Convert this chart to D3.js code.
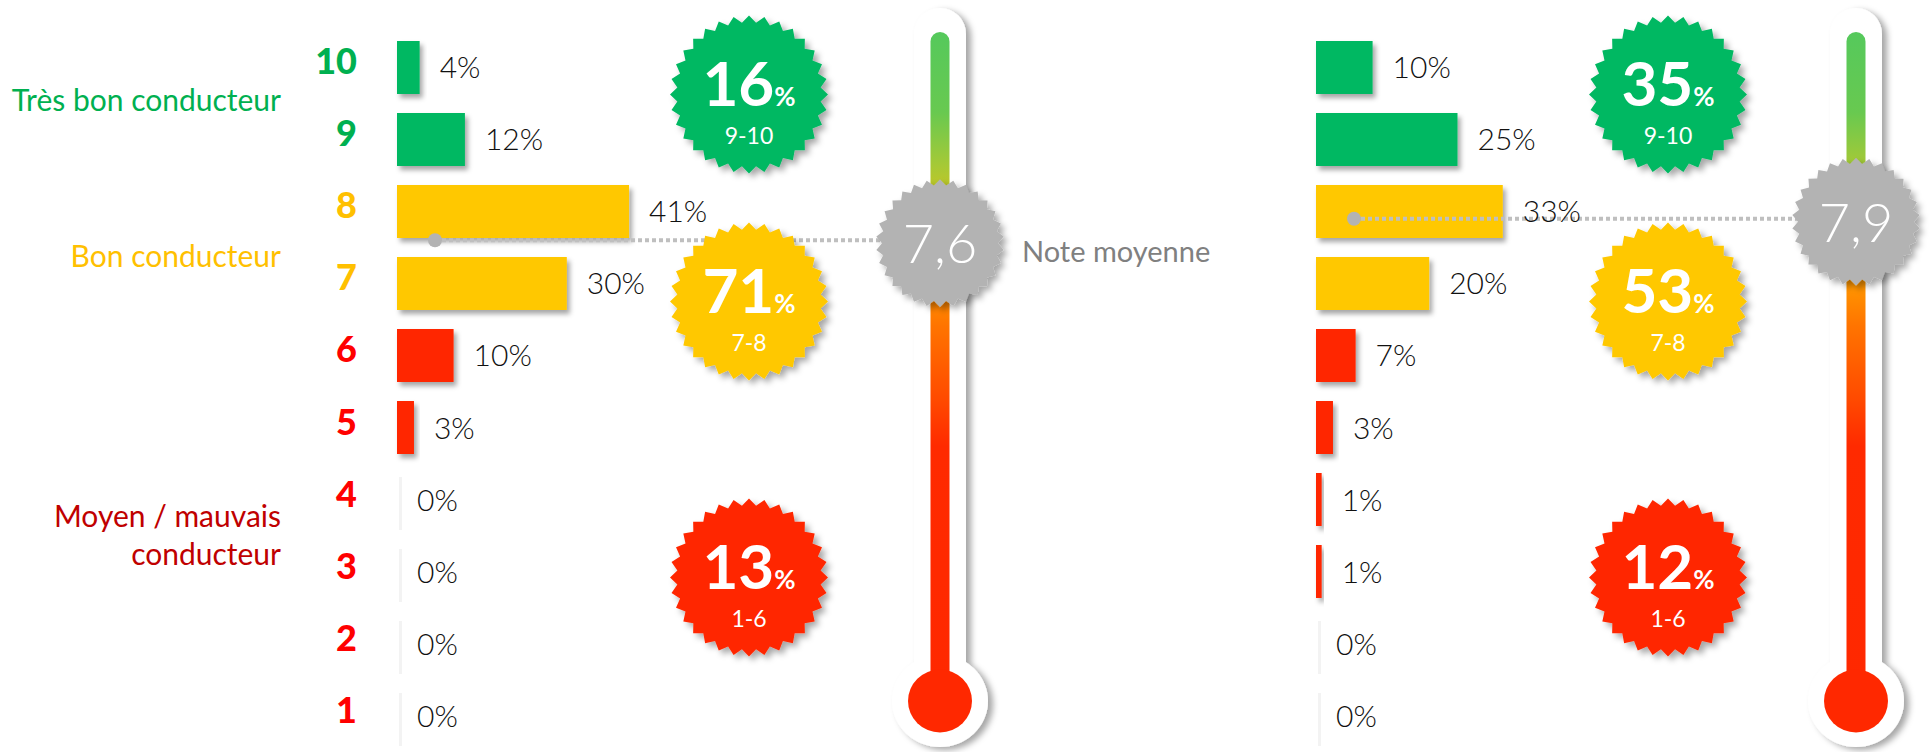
<!DOCTYPE html>
<html>
<head>
<meta charset="utf-8">
<script src="https://cdn.jsdelivr.net/npm/d3@7"></script>
<style>
  body { margin: 0; background: #fff; }
  svg { display: block; }
</style>
</head>
<body>
<div id="container"></div>
<script>
/* CONSTANTS AND GLOBALS */
const width = 1930,
  height = 752

// DATA
const ratings = [10, 9, 8, 7, 6, 5, 4, 3, 2, 1]
const leftPct = [4, 12, 41, 30, 10, 3, 0, 0, 0, 0]
const rightPct = [10, 25, 33, 20, 7, 3, 1, 1, 0, 0]
const groupRanges = ['9-10', '7-8', '1-6']
const leftGroupPct = [16, 71, 13]
const rightGroupPct = [35, 53, 12]
const leftMean = 7.6
const rightMean = 7.9
const meanLabel = 'Note moyenne'
const categoryLabels = [['Très bon conducteur'], ['Bon conducteur'], ['Moyen / mauvais', 'conducteur']]

const green = '#00b862', yellow = '#ffc800', red = '#ff2800', grey = '#b3b3b3'
const groupColor = r => r >= 9 ? green : r >= 7 ? yellow : red
const numColor = r => r >= 9 ? '#00b050' : r >= 7 ? '#ffc000' : '#ff0000'

// panels (layout only)
const panels = [
  { x0: 397, badgeX: 749, thermoX: 940, values: leftPct, groups: leftGroupPct, mean: leftMean, showLabels: true },
  { x0: 1316, badgeX: 1668, thermoX: 1856, values: rightPct, groups: rightGroupPct, mean: rightMean, showLabels: false }
]
const badgeY = [94.5, 301.5, 577.5]

// + SCALES
const yScale = d3.scaleBand()
  .domain(ratings)
  .range([41, 742])
  .paddingInner(0.264)

const xScale = d3.scaleLinear()
  .domain([0, 100])
  .range([0, 566])

const meanScale = d3.scaleLinear()
  .domain([10, 1])
  .range([yScale(10) + yScale.bandwidth() / 2, yScale(1) + yScale.bandwidth() / 2])

// CREATE SVG ELEMENT
const svg = d3.select('#container')
  .append('svg')
  .attr('width', width)
  .attr('height', height)

const defs = svg.append('defs')
const shadow = (id, dx, dy, sd, op) => defs.append('filter')
  .attr('id', id).attr('x', '-30%').attr('y', '-30%').attr('width', '160%').attr('height', '160%')
  .append('feDropShadow')
  .attr('dx', dx).attr('dy', dy).attr('stdDeviation', sd)
  .attr('flood-color', '#000').attr('flood-opacity', op)
shadow('barShadow', 3, 4, 2.5, 0.35)
shadow('badgeShadow', 4, 4, 3, 0.35)
shadow('thermoShadow', 5, 3, 3, 0.35)

const grad = defs.append('linearGradient')
  .attr('id', 'thermoGrad')
  .attr('gradientUnits', 'userSpaceOnUse')
  .attr('x1', 0).attr('x2', 0).attr('y1', 32).attr('y2', 700)
const stops = [[0, '#55c95c'], [0.12, '#68c950'], [0.2, '#a6c936'], [0.25, '#cbc520'],
  [0.37, '#ff9a00'], [0.44, '#ff7400'], [0.55, '#ff4a00'], [0.62, '#ff2a00'], [1, '#ff2800']]
grad.selectAll('stop').data(stops).join('stop')
  .attr('offset', d => d[0]).attr('stop-color', d => d[1])

// star shape for badges
function starPath(rOut, rIn, n) {
  const pts = d3.range(n * 2).map(i => {
    const a = i * Math.PI / n - Math.PI / 2
    const r = i % 2 ? rIn : rOut
    return [Math.cos(a) * r, Math.sin(a) * r]
  })
  return d3.line()(pts) + 'Z'
}

// category labels on the left
const catY = [[111], [267], [527, 565]]
const catColor = ['#00b050', '#ffc000', '#c00000']
categoryLabels.forEach((lines, i) => {
  lines.forEach((t, j) => {
    svg.append('text')
      .attr('x', 281)
      .attr('y', catY[i][j])
      .attr('text-anchor', 'end')
      .attr('font-family', 'Lato, sans-serif')
      .attr('font-size', 30)
      .attr('fill', catColor[i])
      .text(t)
  })
})

// rating numbers
svg.selectAll('.rating')
  .data(ratings)
  .join('text')
  .attr('class', 'rating')
  .attr('x', 357)
  .attr('y', d => yScale(d) + yScale.bandwidth() / 2 + 7)
  .attr('text-anchor', 'end')
  .attr('font-family', 'Lato, sans-serif')
  .attr('font-weight', 900)
  .attr('font-size', 36)
  .attr('fill', d => numColor(d))
  .text(d => d)

panels.forEach(p => {
  const g = svg.append('g')
  const rows = ratings.map((r, i) => ({ rating: r, value: p.values[i] }))

  // DRAW BARS
  g.selectAll('.bar')
    .data(rows)
    .join('rect')
    .attr('class', 'bar')
    .attr('x', p.x0)
    .attr('y', d => yScale(d.rating))
    .attr('width', d => xScale(d.value))
    .attr('height', yScale.bandwidth())
    .attr('fill', d => groupColor(d.rating))
    .attr('filter', 'url(#barShadow)')

  // faint edge for empty bars
  g.selectAll('.zero')
    .data(rows.filter(d => d.value === 0))
    .join('rect')
    .attr('x', p.x0 + 2)
    .attr('y', d => yScale(d.rating) + 4)
    .attr('width', 3)
    .attr('height', yScale.bandwidth())
    .attr('fill', '#f3f3f3')

  // mean dotted line
  const my = meanScale(p.mean)
  g.append('line')
    .attr('x1', p.x0 + 38).attr('x2', p.thermoX)
    .attr('y1', my).attr('y2', my)
    .attr('stroke', '#bfbfbf')
    .attr('stroke-width', 4)
    .attr('stroke-dasharray', '4 3')
  g.append('circle')
    .attr('cx', p.x0 + 38).attr('cy', my).attr('r', 7)
    .attr('fill', grey)

  // value labels
  g.selectAll('.val')
    .data(rows)
    .join('text')
    .attr('class', 'val')
    .attr('x', d => p.x0 + xScale(d.value) + 20)
    .attr('y', d => yScale(d.rating) + yScale.bandwidth() / 2 + 11)
    .attr('font-family', 'Lato, sans-serif')
    .attr('font-weight', 300)
    .attr('font-size', 30)
    .attr('fill', '#111')
    .text(d => d.value + '%')

  // group badges
  const badges = g.selectAll('.badge')
    .data(p.groups.map((v, i) => ({ v, range: groupRanges[i], y: badgeY[i], color: [green, yellow, red][i] })))
    .join('g')
    .attr('class', 'badge')
    .attr('transform', d => `translate(${p.badgeX},${d.y})`)
  badges.append('path')
    .attr('d', starPath(79, 72, 32))
    .attr('fill', d => d.color)
    .attr('filter', 'url(#badgeShadow)')
  const big = badges.append('text')
    .attr('y', 11)
    .attr('text-anchor', 'middle')
    .attr('font-family', 'Lato, sans-serif')
    .attr('font-weight', 700)
    .attr('fill', '#fff')
  big.append('tspan').attr('font-size', 62).text(d => d.v)
  big.append('tspan').attr('font-size', 26).text('%')
  badges.append('text')
    .attr('y', 49)
    .attr('text-anchor', 'middle')
    .attr('font-family', 'Lato, sans-serif')
    .attr('font-size', 23)
    .attr('fill', '#fff')
    .text(d => d.range)

  // THERMOMETER
  const t = g.append('g').attr('filter', 'url(#thermoShadow)')
  t.append('rect')
    .attr('x', p.thermoX - 26).attr('y', 8)
    .attr('width', 52).attr('height', 690)
    .attr('rx', 26)
    .attr('fill', '#fff')
  t.append('ellipse')
    .attr('cx', p.thermoX).attr('cy', 701)
    .attr('rx', 48).attr('ry', 46)
    .attr('fill', '#fff')
  g.append('rect')
    .attr('x', p.thermoX - 9.5).attr('y', 32)
    .attr('width', 19).attr('height', 670)
    .attr('rx', 9.5)
    .attr('fill', 'url(#thermoGrad)')
  g.append('ellipse')
    .attr('cx', p.thermoX).attr('cy', 701)
    .attr('rx', 32).attr('ry', 31.5)
    .attr('fill', red)

  // mean badge
  const mb = g.append('g').attr('transform', `translate(${p.thermoX},${my + 3})`)
  mb.append('path')
    .attr('d', starPath(64, 58, 30))
    .attr('fill', grey)
    .attr('filter', 'url(#badgeShadow)')
  mb.append('text')
    .attr('y', 20)
    .attr('text-anchor', 'middle')
    .attr('font-family', 'Lato, sans-serif')
    .attr('font-weight', 300)
    .attr('font-size', 54)
    .attr('fill', '#fff')
    .text(d3.format('.1f')(p.mean).replace('.', ','))

  if (p.showLabels) {
    g.append('text')
      .attr('x', p.thermoX + 82)
      .attr('y', my + 22)
      .attr('font-family', 'Lato, sans-serif')
      .attr('font-size', 29)
      .attr('fill', '#808080')
      .text(meanLabel)
  }
})
</script>
</body>
</html>
